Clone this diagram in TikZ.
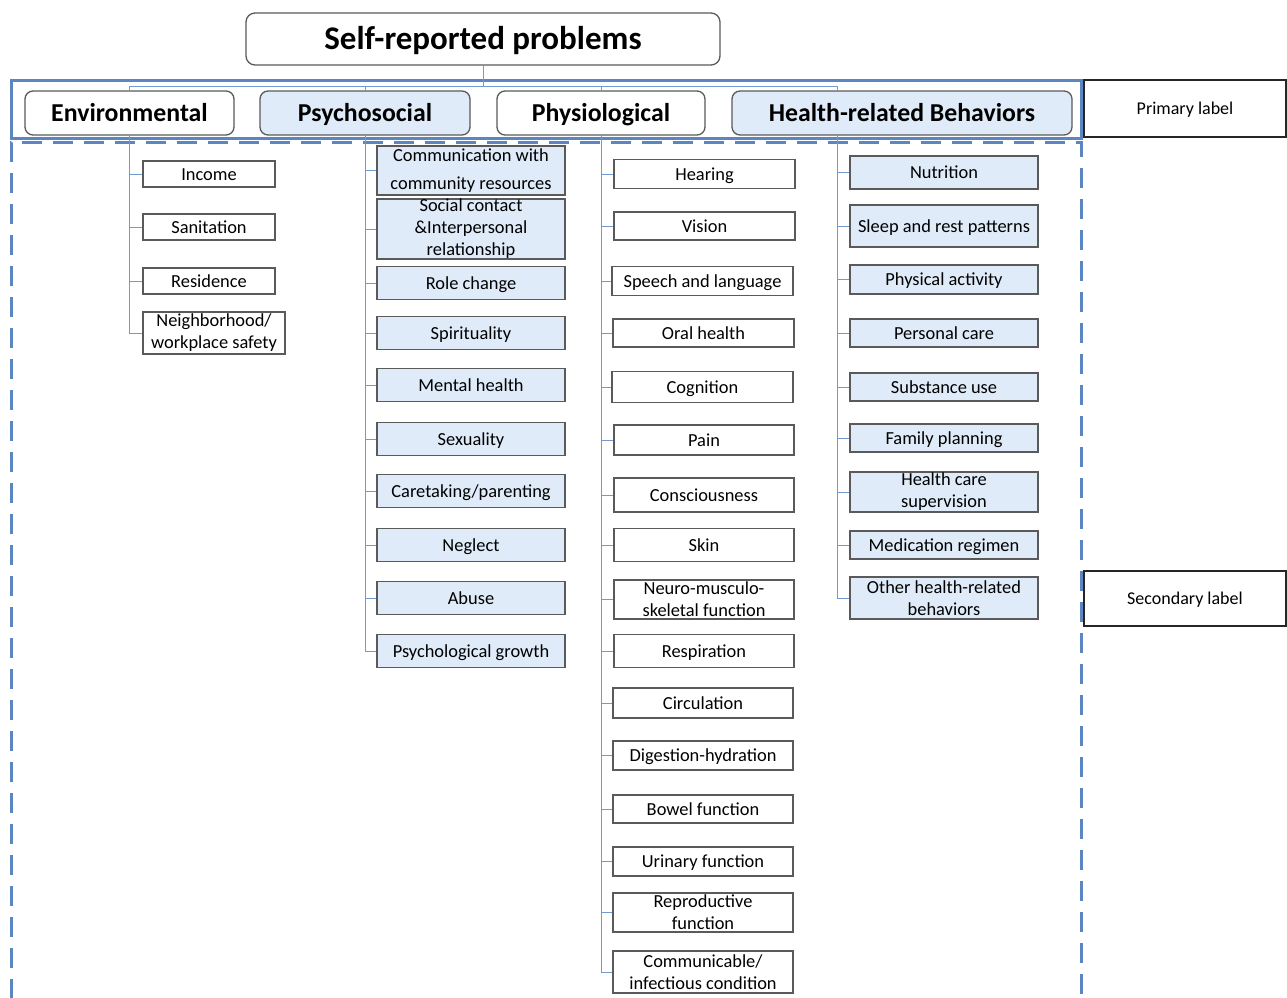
\documentclass[tikz,border=0pt]{standalone}
\usepackage{fontspec}
\setmainfont{Carlito}
\definecolor{frameblue}{HTML}{5B86C2}
\definecolor{connblue}{HTML}{6F9CD0}
\definecolor{lightfill}{HTML}{DFEBF8}
\definecolor{boxgray}{HTML}{5A5A5A}
\begin{document}
\begin{tikzpicture}[x=1pt,y=-1pt,
  mbox/.style={draw=boxgray, line width=1.3pt, inner sep=0pt, align=center,
    font=\fontsize{18.4}{22}\selectfont},
  sbox/.style={mbox, text height=15.5pt, text depth=2.7pt},
  wfill/.style={fill=white},
  bfill/.style={fill=lightfill},
  pbox/.style={draw=boxgray, line width=1.3pt, rounded corners=8pt, inner sep=0pt,
    text height=21pt, text depth=3.5pt,
    minimum height=44pt, font=\fontsize{25.8}{30}\selectfont\bfseries},
  conn/.style={draw=connblue, line width=1pt},
  lbl/.style={draw=black!85, line width=2pt, inner sep=0pt, text height=15.5pt, text depth=2.7pt,
    font=\fontsize{18}{22}\selectfont}
]
\clip (0,0) rectangle (1287,998);
\fill[white] (0,0) rectangle (1287,998);

% frames
\draw[frameblue, line width=3pt] (11,80) rectangle (1081,138);
\draw[frameblue, line width=3pt, dash pattern=on 20pt off 11pt] (11,1030) -- (11,142) -- (1081,142) -- (1081,1030);

% title
\node[draw=boxgray, line width=1.3pt, rounded corners=9pt, minimum width=474pt, minimum height=52pt, inner sep=0pt,
  text height=28pt, text depth=6pt,
  font=\fontsize{33}{36}\selectfont\bfseries] (title) at (483,39) {Self-reported problems};

% primary
\node[pbox, wfill, minimum width=209pt] (env) at (129.5,113) {Environmental};
\node[pbox, bfill, minimum width=210pt] (psy) at (365,113) {Psychosocial};
\node[pbox, wfill, minimum width=208pt] (phy) at (601,113) {Physiological};
\node[pbox, bfill, minimum width=340pt] (hrb) at (902,113) {Health-related Behaviors};
\coordinate (hbtop) at (837,91);
\coordinate (hbbot) at (837,135);

% labels
\node[lbl, minimum width=202pt, minimum height=57pt] (plabel) at (1185,108.5) {Primary label};
\node[lbl, minimum width=202pt, minimum height=55pt] (slabel) at (1185,598.5) {Secondary label};

% top connectors
\draw[conn] (title.south) -- ++(0,21) coordinate (hub);
\draw[conn] (hub) -| (env.north);
\draw[conn] (hub) -| (psy.north);
\draw[conn] (hub) -| (phy.north);
\draw[conn] (hub) -| (hbtop);

% Environmental
\node[sbox, wfill, minimum width=132pt, minimum height=26pt] (e1) at (209,174) {Income};
\node[sbox, wfill, minimum width=132pt, minimum height=26pt] (e2) at (209,227) {Sanitation};
\node[sbox, wfill, minimum width=132pt, minimum height=26pt] (e3) at (209,281) {Residence};
\node[mbox, wfill, minimum width=142pt, minimum height=42pt] (e4) at (214,333) {Neighborhood/\\workplace safety};
\foreach \c in {e1,e2,e3,e4} \draw[conn] (env.south) |- (\c.west);

% Psychosocial
\node[mbox, bfill, minimum width=188pt, minimum height=49pt] (s1) at (471,170.5) {Communication with\\[6pt]community resources};
\node[mbox, bfill, minimum width=188pt, minimum height=58pt] (s2) at (471,229) {Social contact\\\&Interpersonal\\relationship};
\node[sbox, bfill, minimum width=188pt, minimum height=33pt] (s3) at (471,283) {Role change};
\node[sbox, bfill, minimum width=188pt, minimum height=33pt] (s4) at (471,333) {Spirituality};
\node[sbox, bfill, minimum width=188pt, minimum height=33pt] (s5) at (471,385) {Mental health};
\node[sbox, bfill, minimum width=188pt, minimum height=33pt] (s6) at (471,439) {Sexuality};
\node[sbox, bfill, minimum width=188pt, minimum height=33pt] (s7) at (471,491) {Caretaking/parenting};
\node[sbox, bfill, minimum width=188pt, minimum height=33pt] (s8) at (471,545) {Neglect};
\node[sbox, bfill, minimum width=188pt, minimum height=33pt] (s9) at (471,598) {Abuse};
\node[sbox, bfill, minimum width=188pt, minimum height=33pt] (s10) at (471,651) {Psychological growth};
\foreach \c in {s1,s2,s3,s4,s5,s6,s7,s8,s9,s10} \draw[conn] (psy.south) |- (\c.west);

% Physiological
\node[sbox, wfill, minimum width=181pt, minimum height=29pt] (p1) at (704.5,174) {Hearing};
\node[sbox, wfill, minimum width=181pt, minimum height=28pt] (p2) at (704.5,226) {Vision};
\node[sbox, wfill, minimum width=181pt, minimum height=29pt] (p3) at (702.5,281) {Speech and language};
\node[sbox, wfill, minimum width=181pt, minimum height=28pt] (p4) at (703.5,333) {Oral health};
\node[sbox, wfill, minimum width=181pt, minimum height=31pt] (p5) at (702.5,387) {Cognition};
\node[sbox, wfill, minimum width=180pt, minimum height=30pt] (p6) at (704,440) {Pain};
\node[sbox, wfill, minimum width=180pt, minimum height=34pt] (p7) at (704,495) {Consciousness};
\node[sbox, wfill, minimum width=180pt, minimum height=33pt] (p8) at (704,545) {Skin};
\node[mbox, wfill, minimum width=180pt, minimum height=39pt] (p9) at (704,599.5) {Neuro-musculo-\\skeletal function};
\node[sbox, wfill, minimum width=180pt, minimum height=33pt] (p10) at (704,651) {Respiration};
\node[sbox, wfill, minimum width=180pt, minimum height=30pt] (p11) at (703,703) {Circulation};
\node[sbox, wfill, minimum width=180pt, minimum height=29pt] (p12) at (703,755.5) {Digestion-hydration};
\node[sbox, wfill, minimum width=180pt, minimum height=28pt] (p13) at (703,809) {Bowel function};
\node[sbox, wfill, minimum width=180pt, minimum height=29pt] (p14) at (703,861.5) {Urinary function};
\node[mbox, wfill, minimum width=180pt, minimum height=39pt] (p15) at (703,912.5) {Reproductive\\function};
\node[mbox, wfill, minimum width=180pt, minimum height=42pt] (p16) at (703,972) {Communicable/\\infectious condition};
\foreach \c in {p1,p2,p3,p4,p5,p6,p7,p8,p9,p10,p11,p12,p13,p14,p15,p16} \draw[conn] (phy.south) |- (\c.west);

% Health-related behaviors
\node[sbox, bfill, minimum width=188pt, minimum height=33pt] (h1) at (944,172.5) {Nutrition};
\node[sbox, bfill, minimum width=188pt, minimum height=42pt] (h2) at (944,226) {Sleep and rest patterns};
\node[sbox, bfill, minimum width=188pt, minimum height=29pt] (h3) at (944,279.5) {Physical activity};
\node[sbox, bfill, minimum width=188pt, minimum height=28pt] (h4) at (944,333) {Personal care};
\node[sbox, bfill, minimum width=188pt, minimum height=28pt] (h5) at (944,387) {Substance use};
\node[sbox, bfill, minimum width=188pt, minimum height=28pt] (h6) at (944,438) {Family planning};
\node[mbox, bfill, minimum width=188pt, minimum height=40pt] (h7) at (944,492) {Health care\\supervision};
\node[sbox, bfill, minimum width=188pt, minimum height=28pt] (h8) at (944,545) {Medication regimen};
\node[mbox, bfill, minimum width=188pt, minimum height=42pt] (h9) at (944,598) {Other health-related\\behaviors};
\foreach \c in {h1,h2,h3,h4,h5,h6,h7,h8,h9} \draw[conn] (hbbot) |- (\c.west);
\end{tikzpicture}
\end{document}
